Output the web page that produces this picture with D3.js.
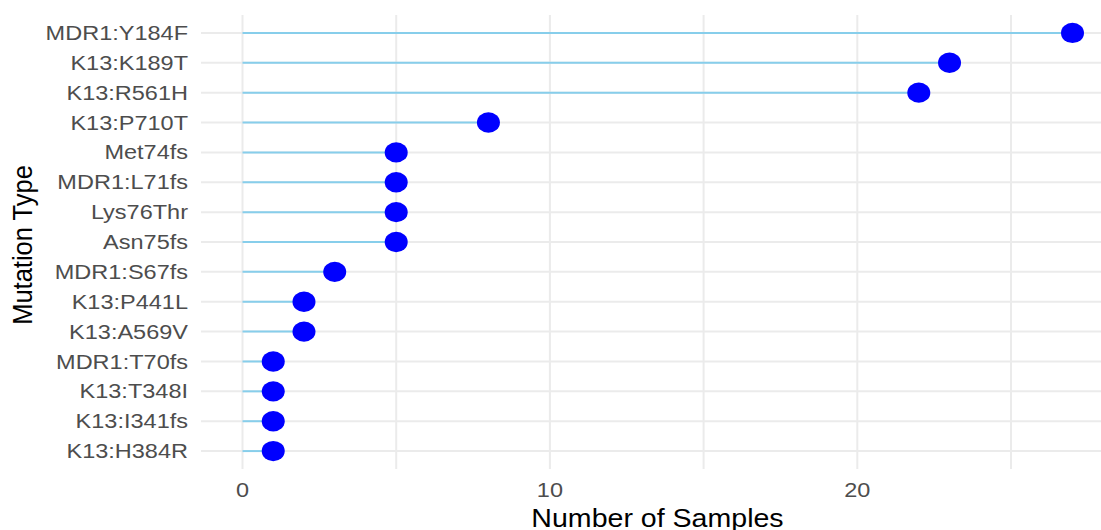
<!DOCTYPE html>
<html><head><meta charset="utf-8">
<script src="https://cdn.jsdelivr.net/npm/d3@7"></script>
<style>html,body{margin:0;padding:0;background:#fff;overflow:hidden}</style>
</head><body>
<svg id="chart" width="1101" height="530"></svg>
<script>
const categories = ["MDR1:Y184F","K13:K189T","K13:R561H","K13:P710T","Met74fs","MDR1:L71fs","Lys76Thr","Asn75fs","MDR1:S67fs","K13:P441L","K13:A569V","MDR1:T70fs","K13:T348I","K13:I341fs","K13:H384R"];
const counts = [27,23,22,8,5,5,5,5,3,2,2,1,1,1,1];
const xTicks = [0,10,20];
const xMinor = [5,15,25];
const xTitle = "Number of Samples";
const yTitle = "Mutation Type";

const svg = d3.select("#chart");
const SX = 1.12;
const panel = {left:201, right:1114, top:15, bottom:469};
const dataMax = d3.max(counts);
const pad = dataMax*0.05;
const x = d3.scaleLinear().domain([0-pad, dataMax+pad]).range([panel.left, panel.right]);
const y = d3.scalePoint().domain(categories).range([panel.top, panel.bottom]).padding(0.6);

const g = svg.append("g");
// grid
g.selectAll(".vmin").data(xMinor).join("line")
 .attr("x1",d=>x(d)).attr("x2",d=>x(d)).attr("y1",panel.top).attr("y2",panel.bottom)
 .attr("stroke","#EBEBEB").attr("stroke-width",2);
g.selectAll(".vmaj").data(xTicks).join("line")
 .attr("x1",d=>x(d)).attr("x2",d=>x(d)).attr("y1",panel.top).attr("y2",panel.bottom)
 .attr("stroke","#EBEBEB").attr("stroke-width",2);
g.selectAll(".hgrid").data(categories).join("line")
 .attr("x1",panel.left).attr("x2",panel.right).attr("y1",d=>y(d)).attr("y2",d=>y(d))
 .attr("stroke","#EBEBEB").attr("stroke-width",2);

// segments
g.selectAll(".seg").data(categories).join("line")
 .attr("x1",x(0)).attr("x2",(d,i)=>x(counts[i])).attr("y1",d=>y(d)).attr("y2",d=>y(d))
 .attr("stroke","#87CEEB").attr("stroke-width",2);
// dots
g.selectAll(".dot").data(categories).join("ellipse")
 .attr("cx",(d,i)=>x(counts[i])).attr("cy",d=>y(d)).attr("rx",11.5).attr("ry",10.2)
 .attr("fill","#0000FF");

// y tick labels
g.selectAll(".ylab").data(categories).join("text")
 .attr("transform",d=>`translate(188,${y(d)}) scale(${SX},1)`)
 .attr("text-anchor","end").attr("dominant-baseline","central")
 .attr("font-family","Liberation Sans, Arial, sans-serif").attr("font-size",21)
 .attr("fill","#4D4D4D").text(d=>d);
// x tick labels
g.selectAll(".xlab").data(xTicks).join("text")
 .attr("transform",d=>`translate(${x(d)},490) scale(${SX},1)`)
 .attr("text-anchor","middle").attr("dominant-baseline","central")
 .attr("font-family","Liberation Sans, Arial, sans-serif").attr("font-size",21)
 .attr("fill","#4D4D4D").text(d=>d);
// titles
svg.append("text")
 .attr("transform",`translate(${(panel.left+panel.right)/2},527) scale(${SX},1)`)
 .attr("text-anchor","middle")
 .attr("font-family","Liberation Sans, Arial, sans-serif").attr("font-size",25.5)
 .attr("fill","#000").text(xTitle);
svg.append("text")
 .attr("transform",`translate(32,245) scale(${SX},1) rotate(-90)`)
 .attr("text-anchor","middle")
 .attr("font-family","Liberation Sans, Arial, sans-serif").attr("font-size",25.5)
 .attr("fill","#000").text(yTitle);
</script>
</body></html>
